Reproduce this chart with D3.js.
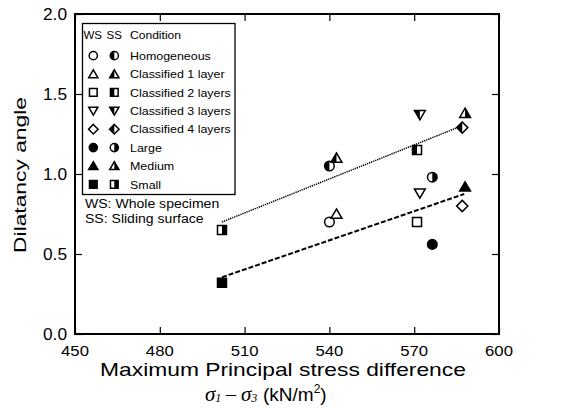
<!DOCTYPE html>
<html>
<head>
<meta charset="utf-8">
<script src="https://cdn.jsdelivr.net/npm/d3@7"></script>
<style>
  html, body { margin: 0; padding: 0; background: #fff; }
  svg { display: block; }
  text { font-family: "Liberation Sans", Arial, sans-serif; fill: #000; }
</style>
</head>
<body>
<svg id="chart" width="568" height="408"></svg>
<script>
// Conditions, in legend order
const conditions = ["Homogeneous", "Classified 1 layer", "Classified 2 layers", "Classified 3 layers",
                    "Classified 4 layers", "Large", "Medium", "Small"];

// Maximum principal stress difference (kN/m2) and dilatancy angle, whole specimen (WS)
const stressWS    = [540, 542.5, 571, 572, 587, 576.4, 588, 502];
const dilatancyWS = [0.70, 0.75, 0.70, 0.88, 0.80, 0.56, 0.92, 0.32];

// Same quantities on the sliding surface (SS)
const stressSS    = [540, 542.5, 571, 572, 587, 576.4, 588, 502];
const dilatancySS = [1.05, 1.10, 1.15, 1.37, 1.29, 0.98, 1.38, 0.65];

// Fitted trend lines (end points)
const trendStressSS    = [502, 586.7];
const trendDilatancySS = [0.70, 1.30];
const trendStressWS    = [502, 587.7];
const trendDilatancyWS = [0.355, 0.875];

// Axis ticks
const xTicks = [450, 480, 510, 540, 570, 600];
const yTicks = [0.0, 0.5, 1.0, 1.5, 2.0];

// Marker encoding per condition
const markerShape = ["circle", "triangle", "square", "triangleDown", "diamond", "circle", "triangle", "square"];
const wsStyle = ["open", "open", "open", "open", "open", "filled", "filled", "filled"];
const ssStyle = ["left", "left", "left", "left", "left", "right", "right", "right"];

const svg = d3.select("#chart");
const plot = { left: 75, right: 499, top: 14, bottom: 334 };

const x = d3.scaleLinear().domain([450, 600]).range([plot.left, plot.right]);
const y = d3.scaleLinear().domain([0, 2]).range([plot.bottom, plot.top]);

// Horizontally widen a text element by factor k
function widen(sel, k) {
  sel.each(function () {
    const w = this.getComputedTextLength();
    this.setAttribute("textLength", (w * k).toFixed(1));
    this.setAttribute("lengthAdjust", "spacingAndGlyphs");
  });
  return sel;
}

// Clip regions for half-filled markers (local marker coordinates)
const defs = svg.append("defs");
defs.append("clipPath").attr("id", "half-left")
  .append("rect").attr("x", -12).attr("y", -12).attr("width", 12).attr("height", 24);
defs.append("clipPath").attr("id", "half-right")
  .append("rect").attr("x", 0).attr("y", -12).attr("width", 12).attr("height", 24);

function shapePath(shape, s) {
  switch (shape) {
    case "circle": {
      const r = 4.8 * s;
      return `M${-r},0A${r},${r} 0 1,0 ${r},0A${r},${r} 0 1,0 ${-r},0Z`;
    }
    case "square": {
      const h = 4.5 * s;
      return `M${-h},${-h}H${h}V${h}H${-h}Z`;
    }
    case "triangle":
      return `M0,${-5 * s}L${5.4 * s},${4.2 * s}L${-5.4 * s},${4.2 * s}Z`;
    case "triangleDown":
      return `M0,${5 * s}L${5.4 * s},${-4.2 * s}L${-5.4 * s},${-4.2 * s}Z`;
    case "diamond":
      return `M0,${-5.6 * s}L${5.6 * s},0L0,${5.6 * s}L${-5.6 * s},0Z`;
  }
}

function drawMarker(parent, cx, cy, shape, style, s) {
  const g = parent.append("g").attr("transform", `translate(${cx},${cy})`);
  const d = shapePath(shape, s);
  g.append("path").attr("d", d)
    .attr("fill", style === "filled" ? "#000" : "#fff")
    .attr("stroke", "#000").attr("stroke-width", 1.5).attr("stroke-linejoin", "miter");
  if (style === "left" || style === "right") {
    g.append("path").attr("d", d).attr("fill", "#000")
      .attr("clip-path", `url(#half-${style})`);
  }
  return g;
}

// Trend lines
const line = d3.line().x(d => x(d[0])).y(d => y(d[1]));
svg.append("path")
  .attr("d", line(d3.zip(trendStressSS, trendDilatancySS)))
  .attr("fill", "none").attr("stroke", "#000").attr("stroke-width", 1.5)
  .attr("stroke-dasharray", "1.3,0.9");
svg.append("path")
  .attr("d", line(d3.zip(trendStressWS, trendDilatancyWS)))
  .attr("fill", "none").attr("stroke", "#000").attr("stroke-width", 2)
  .attr("stroke-dasharray", "5,2");

// Data markers
const marks = svg.append("g");
conditions.forEach((c, i) => {
  drawMarker(marks, x(stressWS[i]), y(dilatancyWS[i]), markerShape[i], wsStyle[i], 1);
  drawMarker(marks, x(stressSS[i]), y(dilatancySS[i]), markerShape[i], ssStyle[i], 1);
});

// Frame with inward ticks on all four sides
svg.append("rect")
  .attr("x", plot.left).attr("y", plot.top)
  .attr("width", plot.right - plot.left).attr("height", plot.bottom - plot.top)
  .attr("fill", "none").attr("stroke", "#000").attr("stroke-width", 2);

const tickLen = 7;
const xAxisB = d3.axisBottom(x).tickValues(xTicks).tickSizeInner(-tickLen).tickSizeOuter(0).tickFormat("");
const xAxisT = d3.axisTop(x).tickValues(xTicks).tickSizeInner(-tickLen).tickSizeOuter(0).tickFormat("");
const yAxisL = d3.axisLeft(y).tickValues(yTicks).tickSizeInner(-tickLen).tickSizeOuter(0).tickFormat("");
const yAxisR = d3.axisRight(y).tickValues(yTicks).tickSizeInner(-tickLen).tickSizeOuter(0).tickFormat("");
[[xAxisB, `translate(0,${plot.bottom})`], [xAxisT, `translate(0,${plot.top})`],
 [yAxisL, `translate(${plot.left},0)`], [yAxisR, `translate(${plot.right},0)`]].forEach(([ax, tr]) => {
  const g = svg.append("g").attr("transform", tr).call(ax);
  g.select(".domain").remove();
  g.selectAll(".tick line").attr("stroke", "#000").attr("stroke-width", 1.2);
});

// Tick labels
const xLabels = svg.append("g").selectAll("text").data(xTicks).join("text")
  .attr("x", d => x(d)).attr("y", 355.5)
  .attr("text-anchor", "middle").attr("font-size", 15.5)
  .text(d => d);
widen(xLabels, 1.08);

const yLabels = svg.append("g").selectAll("text").data(yTicks).join("text")
  .attr("x", 67).attr("y", d => y(d) + 6)
  .attr("text-anchor", "end").attr("font-size", 16)
  .text(d => d.toFixed(1));
widen(yLabels, 1.08);

// Axis titles
widen(svg.append("text")
  .attr("x", 283).attr("y", 376)
  .attr("text-anchor", "middle").attr("font-size", 19)
  .text("Maximum Principal stress difference"), 1.2);

const serif = "'Liberation Serif', 'Times New Roman', serif";
const unit = svg.append("text").attr("y", 401).attr("font-size", 19);
unit.append("tspan").attr("x", 205).attr("font-family", serif)
  .attr("font-style", "italic").attr("font-size", 21).text("σ");
unit.append("tspan").attr("font-family", serif)
  .attr("font-style", "italic").attr("font-size", 12).attr("dy", 0.5).text("1");
unit.append("tspan").attr("x", 226).attr("font-family", serif)
  .attr("font-size", 20).attr("dy", -0.5).text("–");
unit.append("tspan").attr("x", 241).attr("font-family", serif)
  .attr("font-style", "italic").attr("font-size", 21).text("σ");
unit.append("tspan").attr("font-family", serif)
  .attr("font-style", "italic").attr("font-size", 12).attr("dy", 0.5).text("3");
unit.append("tspan").attr("x", 263).attr("dy", -0.5).text("(kN/m");
unit.append("tspan").attr("font-size", 12).attr("dy", -8).text("2");
unit.append("tspan").attr("dy", 8).text(")");

widen(svg.append("text")
  .attr("transform", "translate(26,175) rotate(-90)")
  .attr("text-anchor", "middle").attr("font-size", 17)
  .text("Dilatancy angle"), 1.34);

// Legend
const legend = svg.append("g");
legend.append("rect")
  .attr("x", 82.5).attr("y", 23.5).attr("width", 152.5).attr("height", 171)
  .attr("fill", "#fff").attr("stroke", "#000").attr("stroke-width", 1.3);

const legX = { ws: 93.3, ss: 114.3, text: 130 };
const rowY = d3.scalePoint().domain(conditions).range([55.7, 184.3]);

const header = legend.append("g").attr("font-size", 11.5);
header.append("text").attr("x", 83.5).attr("y", 39).text("WS");
header.append("text").attr("x", 106.5).attr("y", 39).text("SS");
widen(header.append("text").attr("x", legX.text).attr("y", 39).text("Condition"), 1.05);

conditions.forEach((c, i) => {
  const cy = rowY(c);
  drawMarker(legend, legX.ws, cy, markerShape[i], wsStyle[i], 0.85);
  drawMarker(legend, legX.ss, cy, markerShape[i], ssStyle[i], 0.85);
  widen(legend.append("text").attr("x", legX.text).attr("y", cy + 4.2)
    .attr("font-size", 11.5).text(c), 1.08);
});

widen(svg.append("text").attr("x", 85).attr("y", 208).attr("font-size", 12)
  .text("WS: Whole specimen"), 1.17);
widen(svg.append("text").attr("x", 85).attr("y", 223).attr("font-size", 12)
  .text("SS: Sliding surface"), 1.17);
</script>
</body>
</html>
